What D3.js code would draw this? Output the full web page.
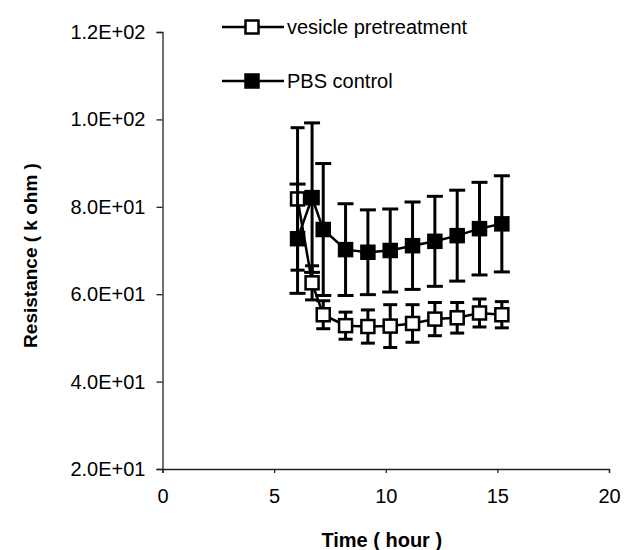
<!DOCTYPE html>
<html>
<head>
<meta charset="utf-8">
<script src="https://cdn.jsdelivr.net/npm/d3@7"></script>
<style>
  body { margin: 0; background: #fff; }
  svg { font-family: "Liberation Sans", Arial, sans-serif; }
</style>
</head>
<body>
<svg id="chart"></svg>
<script>
// values
const times = [6.05, 6.7, 7.2, 8.2, 9.2, 10.2, 11.2, 12.2, 13.2, 14.2, 15.2];
const vesicle = [81.8, 62.6, 55.3, 52.8, 52.6, 52.7, 53.3, 54.3, 54.6, 55.7, 55.3];
const vesicleErr = [16.3, 3.9, 3.2, 3.1, 3.8, 4.9, 4.3, 3.8, 3.5, 3.2, 3.0];
const pbs = [72.7, 82.1, 74.8, 70.2, 69.6, 70.0, 71.1, 72.1, 73.4, 75.0, 76.1];
const pbsErr = [12.5, 17.1, 15.1, 10.5, 9.7, 9.5, 10.0, 10.3, 10.4, 10.6, 11.0];
const xTicks = [0, 5, 10, 15, 20];
const yTicks = [20, 40, 60, 80, 100, 120];
const yTickLabels = ["2.0E+01", "4.0E+01", "6.0E+01", "8.0E+01", "1.0E+02", "1.2E+02"];
const seriesNames = ["vesicle pretreatment", "PBS control"];

const W = 631, H = 550;
const margin = { top: 32, right: 22, bottom: 81, left: 162.5 },
    width = W - margin.left - margin.right,
    height = H - margin.top - margin.bottom;

const svg = d3.select("#chart").attr("width", W).attr("height", H);
const g = svg.append("g")
    .attr("transform", "translate(" + margin.left + "," + margin.top + ")");

const xScale = d3.scaleLinear().domain([0, 20]).range([0, width]);
const yScale = d3.scaleLinear().domain([20, 120]).range([height, 0]);

// axes
const xAxis = g.append("g")
    .attr("transform", "translate(0," + height + ")")
    .call(d3.axisBottom(xScale).tickValues(xTicks).tickSize(4).tickPadding(16).tickFormat(d3.format("d")));
const yAxis = g.append("g")
    .call(d3.axisLeft(yScale).tickValues(yTicks).tickSize(6).tickPadding(11)
        .tickFormat((d, i) => yTickLabels[i]));
[xAxis, yAxis].forEach(a => {
    a.select(".domain").attr("stroke", "#222").attr("stroke-width", 1.3);
    a.selectAll(".tick line").attr("stroke", "#222").attr("stroke-width", 1.3);
    a.selectAll("text").attr("font-size", 20).attr("fill", "#000")
        .attr("font-family", "'Liberation Sans', Arial, sans-serif");
});

// axis titles
g.append("text")
    .attr("x", width / 2 - 4).attr("y", height + 78)
    .attr("text-anchor", "middle").attr("font-size", 20).attr("font-weight", "bold")
    .text("Time ( hour )");
g.append("text")
    .attr("transform", "translate(" + (-126) + "," + (height / 2 + 5) + ") rotate(-90)")
    .attr("text-anchor", "middle").attr("font-size", 19).attr("font-weight", "bold")
    .text("Resistance ( k ohm )");

const series = [
    { name: seriesNames[0], vals: vesicle, err: vesicleErr, fill: "#fff", cap: 7 },
    { name: seriesNames[1], vals: pbs, err: pbsErr, fill: "#000", cap: 8 }
];

const line = d3.line().x(d => xScale(d.t)).y(d => yScale(d.v));
const ms = 13;

series.forEach(s => {
    const pts = times.map((t, i) => ({ t: t, v: s.vals[i], e: s.err[i] }));
    const sg = g.append("g");
    // error bars
    const eb = sg.selectAll(".eb").data(pts).enter().append("g");
    eb.append("line")
        .attr("x1", d => xScale(d.t)).attr("x2", d => xScale(d.t))
        .attr("y1", d => yScale(d.v - d.e)).attr("y2", d => yScale(d.v + d.e))
        .attr("stroke", "#000").attr("stroke-width", 3);
    [-1, 1].forEach(sign => {
        eb.append("line")
            .attr("x1", d => xScale(d.t) - s.cap).attr("x2", d => xScale(d.t) + s.cap)
            .attr("y1", d => yScale(d.v + sign * d.e)).attr("y2", d => yScale(d.v + sign * d.e))
            .attr("stroke", "#000").attr("stroke-width", 3);
    });
    s.g = sg; s.pts = pts;
});

series.forEach(s => {
    s.g.append("path").datum(s.pts)
        .attr("fill", "none").attr("stroke", "#000").attr("stroke-width", 2.5)
        .attr("d", line);
    s.g.selectAll(".mk").data(s.pts).enter().append("rect")
        .attr("x", d => xScale(d.t) - ms / 2).attr("y", d => yScale(d.v) - ms / 2)
        .attr("width", ms).attr("height", ms)
        .attr("fill", s.fill).attr("stroke", "#000").attr("stroke-width", 2.5);
});

// legend
const leg = svg.append("g");
series.forEach((s, i) => {
    const ly = 27 + i * 54;
    leg.append("line").attr("x1", 222).attr("x2", 284).attr("y1", ly).attr("y2", ly)
        .attr("stroke", "#000").attr("stroke-width", 2.5);
    leg.append("rect").attr("x", 252 - ms / 2).attr("y", ly - ms / 2)
        .attr("width", ms).attr("height", ms)
        .attr("fill", s.fill).attr("stroke", "#000").attr("stroke-width", 2.5);
    leg.append("text").attr("x", 287).attr("y", ly + 7)
        .attr("font-size", 20).text(s.name);
});
</script>
</body>
</html>
